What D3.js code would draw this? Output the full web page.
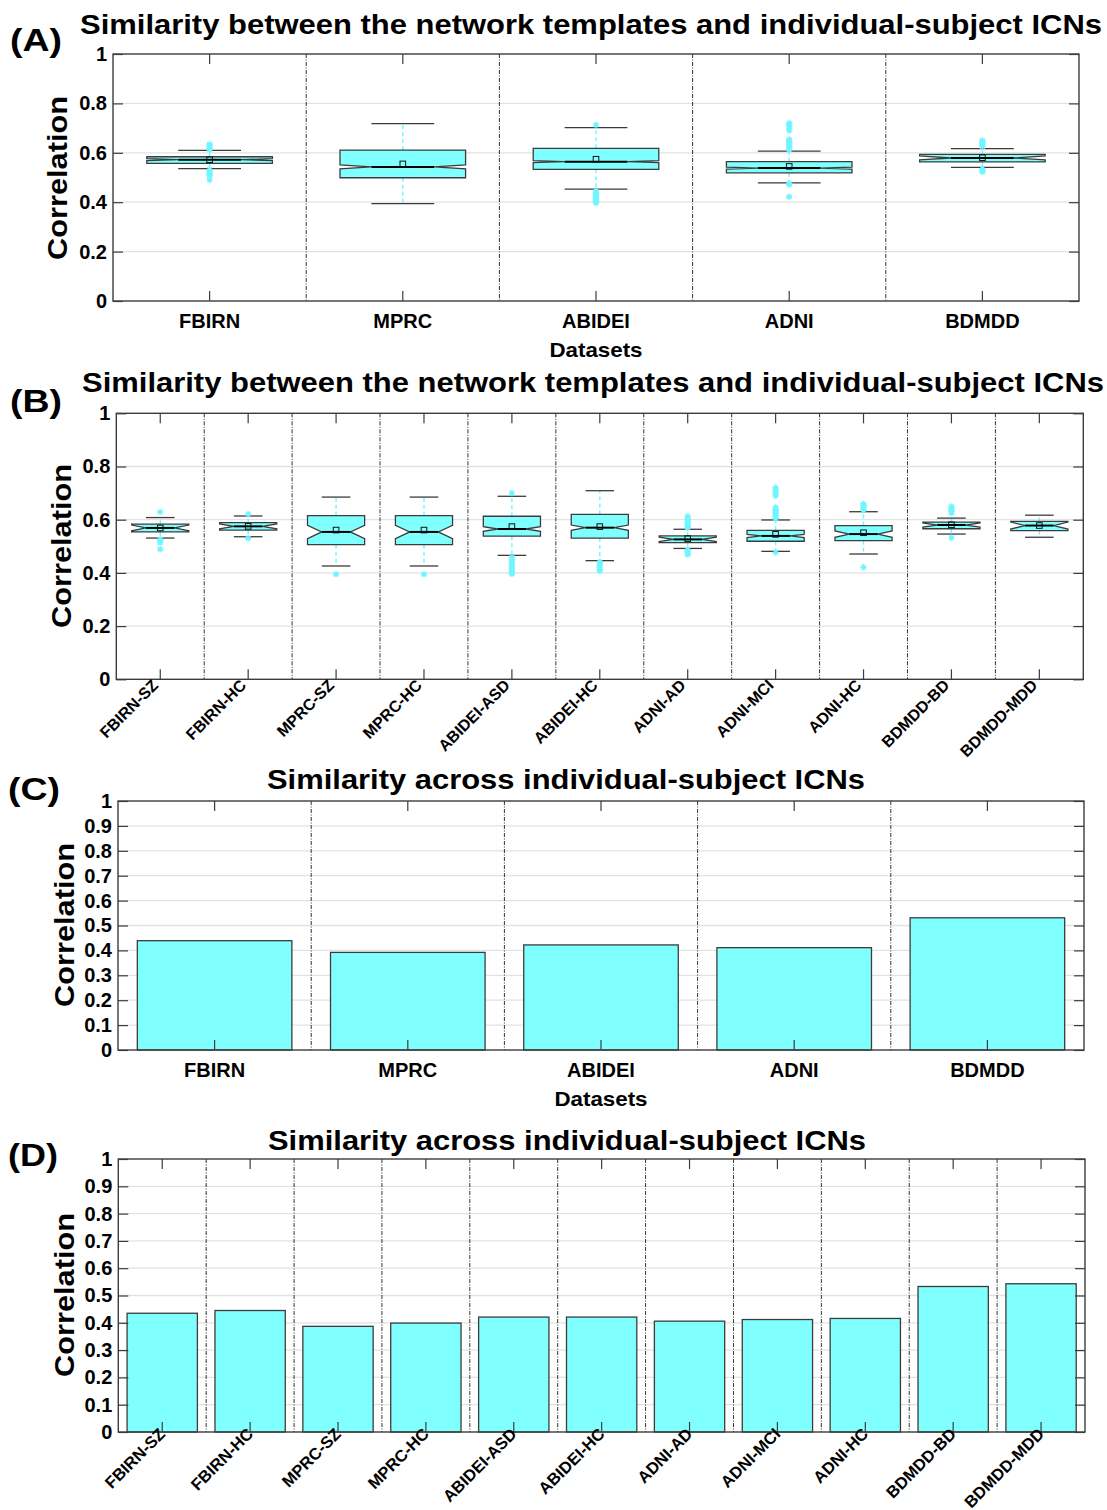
<!DOCTYPE html>
<html><head><meta charset="utf-8">
<script src="https://cdn.jsdelivr.net/npm/d3@7"></script>
<style>
body{margin:0;background:#fff}
text{font-family:"Liberation Sans",Arial,sans-serif;font-weight:bold;fill:#000}
</style>
</head><body><svg id="c" width="1107" height="1510"></svg>
<script>
// ---------------- DATA ----------------
const datasets = ["FBIRN","MPRC","ABIDEI","ADNI","BDMDD"];
const groups = ["FBIRN-SZ","FBIRN-HC","MPRC-SZ","MPRC-HC","ABIDEI-ASD","ABIDEI-HC","ADNI-AD","ADNI-MCI","ADNI-HC","BDMDD-BD","BDMDD-MDD"];
const yTicksBox = [0,0.2,0.4,0.6,0.8,1];
const yTicksBar = [0,0.1,0.2,0.3,0.4,0.5,0.6,0.7,0.8,0.9,1];

// Panel A: box statistics per dataset
const aQ1     = [0.557,0.499,0.533,0.519,0.563];
const aMedian = [0.572,0.543,0.564,0.538,0.579];
const aQ3     = [0.584,0.611,0.618,0.564,0.594];
const aMean   = [0.572,0.555,0.574,0.545,0.580];
const aWhiskLo= [0.536,0.394,0.453,0.478,0.541];
const aWhiskHi= [0.610,0.718,0.702,0.607,0.617];
const aNotch  = [0.004,0.008,0.004,0.004,0.008];
const aOutliers = [
  [0.490,0.508,0.514,0.520,0.526,0.532,0.612,0.618,0.624,0.630,0.635],
  [],
  [0.713,0.397,0.403,0.409,0.415,0.421,0.427,0.433,0.439,0.445],
  [0.690,0.698,0.706,0.714,0.720,0.612,0.618,0.624,0.630,0.636,0.642,0.648,0.654,0.472,0.476,0.422],
  [0.626,0.632,0.638,0.644,0.650,0.536,0.528,0.523]
];

// Panel B: box statistics per group
const bQ1     = [0.554,0.561,0.506,0.506,0.538,0.531,0.514,0.519,0.521,0.566,0.559];
const bMedian = [0.569,0.575,0.554,0.554,0.565,0.570,0.526,0.539,0.546,0.580,0.578];
const bQ3     = [0.583,0.589,0.615,0.615,0.613,0.620,0.539,0.560,0.578,0.591,0.594];
const bMean   = [0.569,0.575,0.561,0.561,0.574,0.574,0.529,0.545,0.551,0.581,0.578];
const bWhiskLo= [0.531,0.536,0.426,0.426,0.466,0.446,0.492,0.481,0.471,0.546,0.534];
const bWhiskHi= [0.608,0.614,0.685,0.685,0.688,0.709,0.564,0.599,0.630,0.606,0.617];
const bNotch  = [0.011,0.009,0.025,0.025,0.009,0.010,0.008,0.006,0.012,0.008,0.013];
const bOutliers = [
  [0.629,0.526,0.520,0.514,0.489],
  [0.621,0.530],
  [0.395],
  [0.395],
  [0.700,0.458,0.451,0.444,0.437,0.430,0.423,0.416,0.409,0.402,0.396],
  [0.441,0.434,0.427,0.420,0.413,0.408],
  [0.570,0.576,0.582,0.588,0.594,0.600,0.606,0.612,0.487,0.481,0.475,0.469],
  [0.690,0.698,0.706,0.714,0.720,0.604,0.610,0.616,0.622,0.628,0.634,0.640,0.646,0.477],
  [0.636,0.642,0.648,0.654,0.659,0.421],
  [0.625,0.631,0.637,0.643,0.650,0.532],
  []
];

// Panel C and D: bar values
const cValues = [0.439,0.392,0.422,0.411,0.531];
const dValues = [0.435,0.445,0.387,0.399,0.421,0.421,0.406,0.412,0.416,0.533,0.543];

// ---------------- DRAWING ----------------
const svg = d3.select("#c");
svg.append("rect").attr("width",1107).attr("height",1510).attr("fill","#fff");
const CYAN_FILL = "#80ffff", CYAN_LINE = "#6ff5ff", EDGE = "#3c3c3c";
const fmt = d => String(+d.toFixed(1));

function makePanel(cats, x0, x1, y0, y1, yTicks){
  const x = d3.scaleBand().domain(cats).range([x0,x1]).padding(0);
  const y = d3.scaleLinear().domain([0,1]).range([y1,y0]);
  const g = svg.append("g");
  g.selectAll("line.grid").data(yTicks.filter(t=>t>0&&t<1)).join("line").attr("class","grid")
    .attr("x1",x0).attr("x2",x1).attr("y1",d=>y(d)).attr("y2",d=>y(d))
    .attr("stroke","#e2e2e2").attr("stroke-width",1.3);
  g.selectAll("line.div").data(cats.slice(1)).join("line").attr("class","div")
    .attr("x1",d=>x(d)).attr("x2",d=>x(d)).attr("y1",y0).attr("y2",y1)
    .attr("stroke","#333").attr("stroke-width",1).attr("stroke-dasharray","4 1.5 1 1.5");
  const marks = svg.append("g");
  return {g, marks, x, y, x0, x1, y0, y1, yTicks, cats};
}

function drawFrame(p){
  const top = svg.append("g");
  const style = sel => { sel.select(".domain").remove(); sel.selectAll(".tick line").attr("stroke",EDGE).attr("stroke-width",1.2); };
  const left = top.append("g").attr("transform",`translate(${p.x0},0)`)
    .call(d3.axisLeft(p.y).tickValues(p.yTicks).tickSize(-10).tickSizeOuter(0).tickPadding(6).tickFormat(fmt));
  style(left);
  left.selectAll(".tick text").attr("font-size",20);
  const right = top.append("g").attr("transform",`translate(${p.x1},0)`)
    .call(d3.axisRight(p.y).tickValues(p.yTicks).tickSize(-10).tickSizeOuter(0).tickFormat(""));
  style(right);
  const bottom = top.append("g").attr("transform",`translate(0,${p.y1})`)
    .call(d3.axisBottom(p.x).tickSize(-10).tickSizeOuter(0).tickFormat(""));
  style(bottom);
  const topAx = top.append("g").attr("transform",`translate(0,${p.y0})`)
    .call(d3.axisTop(p.x).tickSize(-10).tickSizeOuter(0).tickFormat(""));
  style(topAx);
  top.append("rect").attr("x",p.x0).attr("y",p.y0).attr("width",p.x1-p.x0).attr("height",p.y1-p.y0)
    .attr("fill","none").attr("stroke",EDGE).attr("stroke-width",1.4);
}

function drawBoxes(p, Q1, MED, Q3, MEAN, WLO, WHI, NOTCH, OUT){
  const bw = p.x.bandwidth()*0.65, ins = bw*0.25;
  const stats = p.cats.map((c,i)=>({c, q1:Q1[i], med:MED[i], q3:Q3[i], mean:MEAN[i], wlo:WLO[i], whi:WHI[i], n:NOTCH[i], out:OUT[i]}));
  const y = p.y;
  stats.forEach(s=>{
    const cx = p.x(s.c)+p.x.bandwidth()/2, L = cx-bw/2, R = cx+bw/2;
    const g = p.marks.append("g");
    g.append("line").attr("x1",cx).attr("x2",cx).attr("y1",y(s.q3)).attr("y2",y(s.whi))
      .attr("stroke",CYAN_LINE).attr("stroke-width",1.4).attr("stroke-dasharray","4 3");
    g.append("line").attr("x1",cx).attr("x2",cx).attr("y1",y(s.q1)).attr("y2",y(s.wlo))
      .attr("stroke",CYAN_LINE).attr("stroke-width",1.4).attr("stroke-dasharray","4 3");
    [s.whi,s.wlo].forEach(v=>g.append("line").attr("x1",cx-bw/4).attr("x2",cx+bw/4).attr("y1",y(v)).attr("y2",y(v))
      .attr("stroke",EDGE).attr("stroke-width",1.3));
    const pts = [[L,y(s.q3)],[L,y(s.med+s.n)],[L+ins,y(s.med)],[L,y(s.med-s.n)],[L,y(s.q1)],
                 [R,y(s.q1)],[R,y(s.med-s.n)],[R-ins,y(s.med)],[R,y(s.med+s.n)],[R,y(s.q3)]];
    g.append("path").attr("d",d3.line()(pts)+"Z").attr("fill",CYAN_FILL).attr("stroke",EDGE).attr("stroke-width",1.3);
    g.append("line").attr("x1",L+ins).attr("x2",R-ins).attr("y1",y(s.med)).attr("y2",y(s.med))
      .attr("stroke","#000").attr("stroke-width",2);
    g.selectAll("path.o").data(s.out).join("path").attr("class","o")
      .attr("transform",d=>`translate(${cx},${y(d)})`)
      .attr("d","M-3.2,0H3.2M0,-3.2V3.2M-2.3,-2.3L2.3,2.3M-2.3,2.3L2.3,-2.3")
      .attr("stroke",CYAN_LINE).attr("stroke-width",1.3).attr("fill","none");
    g.append("rect").attr("x",cx-2.8).attr("y",y(s.mean)-2.8).attr("width",5.6).attr("height",5.6)
      .attr("fill","none").attr("stroke","#111").attr("stroke-width",1);
  });
}

function drawBars(p, vals){
  const w = p.x.bandwidth()*0.8;
  p.marks.selectAll("rect.bar").data(p.cats.map((c,i)=>({c,v:vals[i]}))).join("rect").attr("class","bar")
    .attr("x",d=>p.x(d.c)+(p.x.bandwidth()-w)/2).attr("width",w)
    .attr("y",d=>p.y(d.v)).attr("height",d=>p.y(0)-p.y(d.v))
    .attr("fill",CYAN_FILL).attr("stroke",EDGE).attr("stroke-width",1.3);
}

function flatLabels(p, baseline, size){
  svg.append("g").selectAll("text").data(p.cats).join("text")
    .attr("x",d=>p.x(d)+p.x.bandwidth()/2).attr("y",baseline).attr("text-anchor","middle")
    .attr("font-size",size).text(d=>d);
}
function rotLabels(p, dx, dy, size){
  svg.append("g").selectAll("text").data(p.cats).join("text")
    .attr("transform",d=>`translate(${p.x(d)+p.x.bandwidth()/2+dx},${p.y1+dy}) rotate(-45)`)
    .attr("text-anchor","end").attr("font-size",size).text(d=>d);
}
function txt(x,y,s,size,opts={}){
  const t = svg.append("text").attr("x",x).attr("y",y).attr("font-size",size).text(s)
    .attr("text-anchor",opts.anchor||"middle");
  if(opts.len){ t.attr("textLength",opts.len).attr("lengthAdjust","spacingAndGlyphs"); }
  if(opts.rot){ t.attr("x",0).attr("y",0).attr("transform",`translate(${x},${y}) rotate(-90)`); }
  return t;
}

// Panel A
const pA = makePanel(datasets, 113, 1079, 54, 301, yTicksBox);
drawBoxes(pA, aQ1, aMedian, aQ3, aMean, aWhiskLo, aWhiskHi, aNotch, aOutliers);
drawFrame(pA);
flatLabels(pA, 328, 20);
txt(596, 357, "Datasets", 21, {len:93});
txt(67, 178, "Correlation", 28, {rot:true, len:164});
txt(591, 34, "Similarity between the network templates and individual-subject ICNs", 27, {len:1022});
txt(10, 51, "(A)", 31, {anchor:"start", len:52});

// Panel B
const pB = makePanel(groups, 116.3, 1083.3, 413.3, 679.3, yTicksBox);
drawBoxes(pB, bQ1, bMedian, bQ3, bMean, bWhiskLo, bWhiskHi, bNotch, bOutliers);
drawFrame(pB);
rotLabels(pB, -1, 7, 16);
txt(71, 546, "Correlation", 28, {rot:true, len:164});
txt(593, 392, "Similarity between the network templates and individual-subject ICNs", 27, {len:1022});
txt(10, 412, "(B)", 31, {anchor:"start", len:52});

// Panel C
const pC = makePanel(datasets, 118, 1084, 801, 1050, yTicksBar);
drawBars(pC, cValues);
drawFrame(pC);
flatLabels(pC, 1077, 20);
txt(601, 1106, "Datasets", 21, {len:93});
txt(74, 925, "Correlation", 28, {rot:true, len:164});
txt(566, 789, "Similarity across individual-subject ICNs", 28, {len:598});
txt(8, 800, "(C)", 31, {anchor:"start", len:52});

// Panel D
const pD = makePanel(groups, 118.3, 1085, 1159, 1432, yTicksBar);
drawBars(pD, dValues);
drawFrame(pD);
rotLabels(pD, 4, 3, 16.5);
txt(74, 1295, "Correlation", 28, {rot:true, len:164});
txt(567, 1150, "Similarity across individual-subject ICNs", 28, {len:598});
txt(8, 1166, "(D)", 31, {anchor:"start", len:50});
</script>
</body></html>
